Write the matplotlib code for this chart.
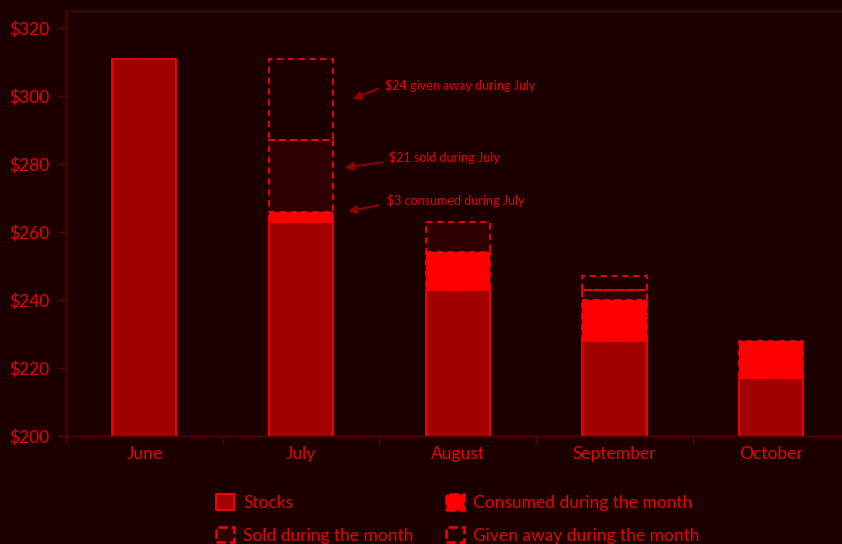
import numpy as np
import matplotlib
matplotlib.use('Agg')
import matplotlib.pyplot as plt
from matplotlib.patches import Patch
from matplotlib.ticker import FuncFormatter, FixedLocator

# data
months = ['June', 'July', 'August', 'September', 'October']
stocks = [311, 263, 243, 228, 217]
consumed = [0, 3, 11, 12, 11]
sold = [0, 21, 9, 3, 0]
given = [0, 24, 0, 4, 0]

notes = ['$24 given away during July', '$21 sold during July', '$3 consumed during July']

BG = '#1c0000'
RED = '#ff0000'
TXT = '#e80000'
DARK = '#a00000'
SOLDC = '#2e0000'
SPINE = '#5a0000'
ARROW = '#900000'

plt.rcParams['font.family'] = ['Lato', 'DejaVu Sans']

fig = plt.figure(figsize=(8.42, 5.44), dpi=100, facecolor=BG)
ax = fig.add_axes([0.0784, 0.1985, 0.9305, 0.7813], facecolor=BG)

x = np.arange(len(months))
w = 0.41
st = np.array(stocks, float)
co = np.array(consumed, float)
so = np.array(sold, float)
gi = np.array(given, float)

ax.bar(x, st, w, color=DARK, edgecolor=RED, linewidth=1.3, zorder=2)

dash = (0, (3.5, 2.5))
layers = [(co, st, RED), (so, st + co, SOLDC), (gi, st + co + so, 'none')]
for vals, bottom, fc in layers:
    m = vals > 0
    ax.bar(x[m], vals[m], w, bottom=bottom[m], color=fc, edgecolor=RED,
           linewidth=1.3, linestyle=dash, zorder=3)

ax.set_xlim(-0.5, 4.5)
ax.set_ylim(200, 325)
ax.set_xticks(x)
ax.set_xticklabels(months)
ax.xaxis.set_minor_locator(FixedLocator(np.arange(-0.5, 5, 1.0)))
ax.tick_params(axis='x', which='major', length=0, pad=7, labelsize=12.5, labelcolor=TXT)
ax.tick_params(axis='x', which='minor', length=6, width=1, color=SPINE)
ax.set_yticks(np.arange(200, 321, 20))
ax.yaxis.set_major_formatter(FuncFormatter(lambda v, p: '$%d' % v))
ax.tick_params(axis='y', length=6, width=1, color=SPINE, pad=6, labelsize=12.5, labelcolor=TXT)

for s in ['left', 'top', 'bottom', 'right']:
    ax.spines[s].set_color(SPINE)
    ax.spines[s].set_linewidth(1)

# annotations for July
tips = [(1.314, 298.8), (1.263, 278.8), (1.282, 265.9)]
tails = [(1.506, 302.4), (1.531, 280.6), (1.512, 268.0)]
texts = [(1.537, 303.2), (1.563, 281.8), (1.55, 269.4)]
for note, tip, tail, tp in zip(notes, tips, tails, texts):
    ax.annotate('', xy=tip, xytext=tail,
                arrowprops=dict(arrowstyle='-|>', color=ARROW, lw=1.5, mutation_scale=12))
    ax.text(tp[0], tp[1], note, color=TXT, fontsize=9, va='center', ha='left')

h_stock = Patch(facecolor=DARK, edgecolor=RED, linewidth=1.3, label='Stocks')
h_cons = Patch(facecolor=RED, edgecolor=RED, linewidth=1.8, linestyle='--', label='Consumed during the month')
h_sold = Patch(facecolor=SOLDC, edgecolor=RED, linewidth=1.8, linestyle='--', label='Sold during the month')
h_give = Patch(facecolor='none', edgecolor=RED, linewidth=1.8, linestyle='--', label='Given away during the month')
# legend fills column by column, so order gives rows: Stocks|Consumed, Sold|Given
leg = fig.legend(handles=[h_stock, h_sold, h_cons, h_give], loc='center',
                 bbox_to_anchor=(0.544, 0.046), ncol=2,
                 frameon=False, fontsize=12.5, handlelength=1.0, handleheight=1.0,
                 handletextpad=0.55, columnspacing=1.9, labelspacing=0.9)
for t in leg.get_texts():
    t.set_color(TXT)

fig.savefig('out.png', dpi=100, facecolor=BG)
